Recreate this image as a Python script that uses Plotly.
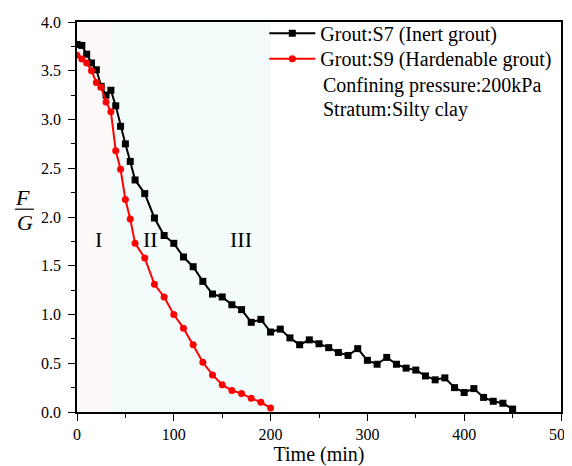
import plotly.graph_objects as go

s7_time = [0, 5, 10, 15, 20, 25, 30, 35, 40, 45, 50, 55, 60,
           70, 80, 90, 100, 110, 120, 130, 140, 150, 160, 170, 180, 190, 200,
           210, 220, 230, 240, 250, 260, 270, 280, 290, 300, 310, 320, 330,
           340, 350, 360, 370, 380, 390, 400, 410, 420, 430, 440, 450]
s7_fg = [3.77, 3.76, 3.67, 3.58, 3.51, 3.34, 3.25, 3.30, 3.14, 2.93, 2.75, 2.57, 2.38,
         2.24, 1.99, 1.81, 1.73, 1.59, 1.49, 1.34, 1.21, 1.18, 1.10, 1.05, 0.92, 0.95, 0.82,
         0.85, 0.76, 0.69, 0.74, 0.70, 0.66, 0.61, 0.58, 0.65, 0.53, 0.49, 0.56, 0.49,
         0.45, 0.43, 0.37, 0.33, 0.35, 0.25, 0.20, 0.24, 0.15, 0.11, 0.09, 0.03]

s9_time = [0, 5, 10, 15, 20, 25, 30, 35, 40, 45, 50, 55, 60,
           70, 80, 90, 100, 110, 120, 130, 140, 150, 160, 170, 180, 190, 200]
s9_fg = [3.66, 3.62, 3.58, 3.50, 3.38, 3.33, 3.18, 3.08, 2.68, 2.49, 2.18, 1.98, 1.73,
         1.58, 1.31, 1.18, 1.00, 0.86, 0.69, 0.51, 0.38, 0.28, 0.22, 0.19, 0.14, 0.10, 0.04]

stage_bounds = [0, 35, 200]
stage_labels = ["I", "II", "III"]
stage_label_x = [22, 76, 169]
stage_label_y = 1.77

FONT = "Liberation Serif"

fig = go.Figure()

fig.add_trace(go.Scatter(
    x=s7_time, y=s7_fg, mode="lines+markers", name="Grout:S7 (Inert grout)",
    line=dict(color="black", width=2),
    marker=dict(symbol="square", size=7, color="black"),
    legend="legend",
))
fig.add_trace(go.Scatter(
    x=s9_time, y=s9_fg, mode="lines+markers", name="Grout:S9 (Hardenable grout)",
    line=dict(color="#ff0000", width=2),
    marker=dict(symbol="circle", size=7, color="#ff0000"),
    legend="legend2",
))

# background stage shading
fig.add_vrect(x0=stage_bounds[0], x1=stage_bounds[1], fillcolor="#fef9f9",
              line_width=0, layer="below")
fig.add_vrect(x0=stage_bounds[1], x1=stage_bounds[2], fillcolor="#f4fbfb",
              line_width=0, layer="below")

for lab, lx in zip(stage_labels, stage_label_x):
    fig.add_annotation(x=lx, y=stage_label_y, text=lab, showarrow=False,
                       font=dict(family=FONT, size=22, color="black"))

# extra legend text lines
fig.add_annotation(xref="paper", yref="paper", x=0.505, y=0.838, xanchor="left",
                   yanchor="middle", text="Confining pressure:200kPa", showarrow=False,
                   font=dict(family=FONT, size=20, color="black"))
fig.add_annotation(xref="paper", yref="paper", x=0.505, y=0.776, xanchor="left",
                   yanchor="middle", text="Stratum:Silty clay", showarrow=False,
                   font=dict(family=FONT, size=20, color="black"))

# y-axis title as fraction F / G
fig.add_annotation(xref="paper", yref="paper", x=-0.133, y=0.551, text="<i>F</i>",
                   showarrow=False, font=dict(family=FONT, size=22, color="black"))
fig.add_annotation(xref="paper", yref="paper", x=-0.128, y=0.485, text="<i>G</i>",
                   showarrow=False, font=dict(family=FONT, size=22, color="black"))
fig.add_shape(type="line", xref="paper", yref="paper", x0=-0.128, x1=-0.089,
              y0=0.52, y1=0.52, line=dict(color="black", width=1.2))

leg_common = dict(xanchor="left", yanchor="middle", bgcolor="rgba(0,0,0,0)",
                  font=dict(family=FONT, size=20, color="black"), itemwidth=46)

fig.update_layout(
    width=564, height=458,
    margin=dict(l=69, r=11, t=14, b=54, autoexpand=False),
    paper_bgcolor="white", plot_bgcolor="white",
    font=dict(family=FONT, size=16, color="black"),
    showlegend=True,
    legend=dict(x=0.387, y=0.971, **leg_common),
    legend2=dict(x=0.387, y=0.906, **leg_common),
    xaxis=dict(range=[0, 500], tick0=0, dtick=100, showgrid=False, zeroline=False,
               automargin=False, ticklabeloverflow="allow",
               showline=True, linecolor="black", linewidth=1.5, mirror=True,
               ticks="outside", ticklen=7, tickwidth=1.2, tickcolor="black",
               minor=dict(ticks="outside", ticklen=4, dtick=50, tickcolor="black", tickwidth=1.2),
               title=dict(text="Time (min)", font=dict(family=FONT, size=20), standoff=4),
               tickfont=dict(family=FONT, size=16)),
    yaxis=dict(range=[0, 4.0], tick0=0, dtick=0.5, tickformat=".1f", showgrid=False,
               automargin=False, ticklabelstandoff=4,
               zeroline=False, showline=True, linecolor="black", linewidth=1.5, mirror=True,
               ticks="outside", ticklen=7, tickwidth=1.2, tickcolor="black",
               minor=dict(ticks="outside", ticklen=4, dtick=0.25, tickcolor="black", tickwidth=1.2),
               tickfont=dict(family=FONT, size=16)),
)

fig.write_html("out.html")
